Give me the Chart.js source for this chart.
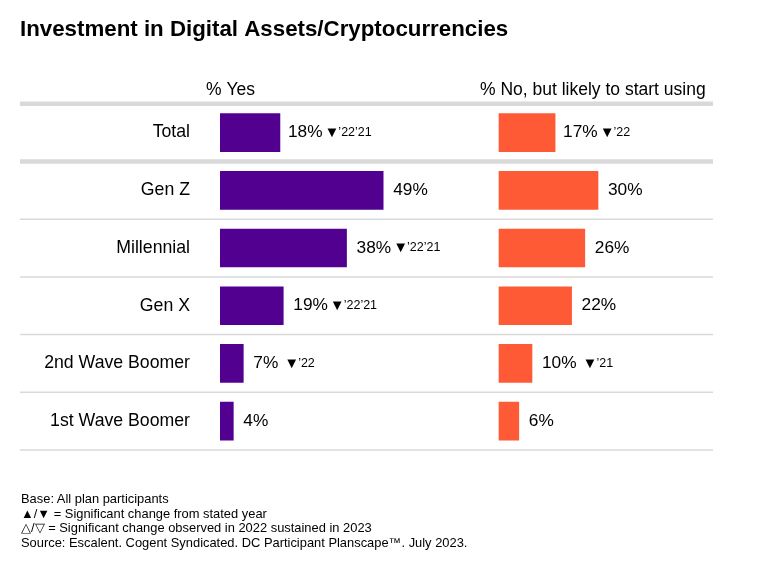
<!DOCTYPE html>
<html>
<head>
<meta charset="utf-8">
<title>Investment in Digital Assets/Cryptocurrencies</title>
<script src="https://cdn.jsdelivr.net/npm/chart.js@4"></script>
<style>
    html, body { margin: 0; background: #fff; }
    #wrap { position: relative; width: 763px; height: 566px; overflow: hidden; }
    canvas { position: absolute; left: 0; top: 0; }
    #notes {
        position: absolute; left: 21px; top: 492px; white-space: nowrap;
        font: 12.9px/14.5px "Liberation Sans", Arial, sans-serif; color: #000;
    }
</style>
</head>
<body>
<div id="wrap">
    <canvas id="chart" width="763" height="566"></canvas>
    <div id="notes"></div>
</div>
<script>
    // Data
    const categories = ['Total', 'Gen Z', 'Millennial', 'Gen X', '2nd Wave Boomer', '1st Wave Boomer'];
    const yesValues = [18, 49, 38, 19, 7, 4];
    const noValues = [17, 30, 26, 22, 10, 6];
    const yesMarks = ['’22’21', '', '’22’21', '’22’21', '’22', ''];
    const noMarks = ['’22', '', '', '', '’21', ''];
    const headers = ['% Yes', '% No, but likely to start using'];
    const titleText = 'Investment in Digital Assets/Cryptocurrencies';
    const footnotes = [
        'Base: All plan participants',
        '▲/▼ = Significant change from stated year',
        '△/▽ = Significant change observed in 2022 sustained in 2023',
        'Source: Escalent. Cogent Syndicated. DC Participant Planscape™. July 2023.'
    ];

    const FONT = '"Liberation Sans", Arial, sans-serif';
    const PX_PER_YES = 3.33;
    const PX_PER_NO = 3.3;
    const PURPLE = '#510090';
    const ORANGE = '#FF5A36';
    const RULE = '#D9D9D9';

    document.getElementById('notes').innerHTML = footnotes.join('<br>');

    // Row rules and column headers
    const rulesPlugin = {
        id: 'rules',
        beforeDatasetsDraw(chart) {
            const c = chart.ctx;
            const area = chart.chartArea;
            const rowH = (area.bottom - area.top) / categories.length;
            c.save();
            c.strokeStyle = RULE;
            for (let i = 0; i <= categories.length; i++) {
                const y = area.top + rowH * i;
                c.lineWidth = i < 2 ? 4.5 : 1.5;
                c.beginPath();
                c.moveTo(20, y);
                c.lineTo(area.right, y);
                c.stroke();
            }
            c.fillStyle = '#000';
            c.font = '17.5px ' + FONT;
            c.textBaseline = 'alphabetic';
            c.textAlign = 'left';
            c.fillText(headers[0], 206, 95);
            c.fillText(headers[1], 480, 95);
            c.restore();
        }
    };

    // Value labels with the significance marks behind them
    const labelsPlugin = {
        id: 'valueLabels',
        afterDatasetsDraw(chart) {
            const c = chart.ctx;
            const allMarks = [yesMarks, noMarks];
            c.save();
            c.textBaseline = 'middle';
            c.textAlign = 'left';
            allMarks.forEach((marks, d) => {
                chart.getDatasetMeta(d).data.forEach((bar, i) => {
                    const text = chart.data.datasets[d].data[i] + '%';
                    const x = bar.x + (i === 0 ? 8 : 10);
                    c.fillStyle = '#000';
                    c.font = '17.3px ' + FONT;
                    c.fillText(text, x, bar.y);
                    if (marks[i]) {
                        // the 2nd Wave row has a wider gap in the original
                        let mx = x + c.measureText(text).width + (i === 4 ? 6 : 2);
                        c.font = '15px ' + FONT;
                        c.fillText('▼', mx, bar.y);
                        mx += c.measureText('▼').width - 1;
                        c.font = '12.5px ' + FONT;
                        c.fillText(marks[i], mx, bar.y);
                    }
                });
            });
            c.restore();
        }
    };

    new Chart(document.getElementById('chart').getContext('2d'), {
        type: 'bar',
        data: {
            labels: categories,
            datasets: [
                { data: yesValues, backgroundColor: PURPLE, xAxisID: 'xYes', barThickness: 38, grouped: false },
                { data: noValues, backgroundColor: ORANGE, xAxisID: 'xNo', barThickness: 38, grouped: false }
            ]
        },
        options: {
            indexAxis: 'y',
            responsive: false,
            animation: false,
            layout: { padding: { left: 20, right: 50, top: 0, bottom: 116 } },
            plugins: {
                legend: { display: false },
                tooltip: { enabled: false },
                title: {
                    display: true,
                    text: titleText,
                    align: 'start',
                    color: '#000',
                    font: { family: FONT, size: 22.3, weight: 'bold' },
                    padding: { top: 16, bottom: 61 }
                }
            },
            scales: {
                y: {
                    grid: { display: false },
                    border: { display: false },
                    ticks: { color: '#000', font: { family: FONT, size: 17.7 }, padding: 22 },
                    afterFit(axis) { axis.width = 200; }
                },
                // Both bar columns share the plot, each axis has its own zero
                xYes: {
                    display: false,
                    min: 0,
                    max: 493 / PX_PER_YES
                },
                xNo: {
                    display: false,
                    min: -279 / PX_PER_NO,
                    max: 214 / PX_PER_NO
                }
            }
        },
        plugins: [rulesPlugin, labelsPlugin]
    });
</script>
</body>
</html>
